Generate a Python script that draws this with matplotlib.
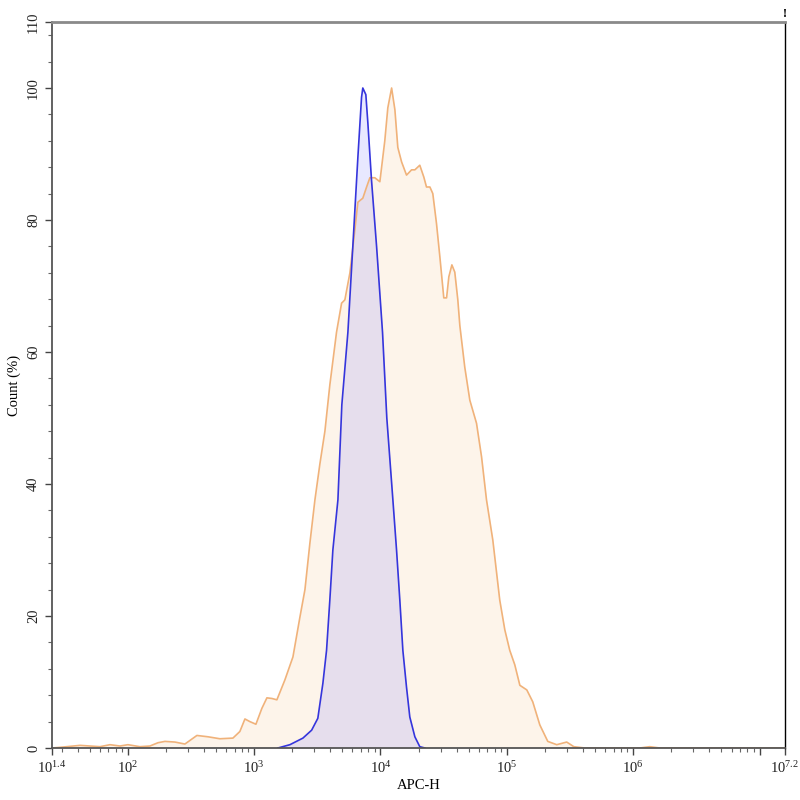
import numpy as np
import matplotlib
matplotlib.use("Agg")
from matplotlib import pyplot as plt
from matplotlib.ticker import FixedLocator, MultipleLocator, FixedFormatter

plt.rcParams['font.family'] = ['Liberation Serif', 'DejaVu Serif']
plt.rcParams['mathtext.fontset'] = 'custom'
plt.rcParams['mathtext.rm'] = 'Liberation Serif'

# APC-H positions are given as log10 exponents
sample_log = [1.400, 1.463, 1.622, 1.780, 1.859, 1.938, 2.001, 2.096, 2.175, 2.239,
              2.294, 2.373, 2.452, 2.547, 2.634, 2.729, 2.832, 2.887, 2.927, 2.966,
              3.014, 3.061, 3.101, 3.141, 3.180, 3.243, 3.307, 3.362, 3.402, 3.441,
              3.481, 3.520, 3.560, 3.599, 3.652, 3.692, 3.718, 3.758, 3.797, 3.821,
              3.860, 3.890, 3.916, 3.955, 3.995, 4.034, 4.058, 4.088, 4.114, 4.137,
              4.167, 4.206, 4.246, 4.272, 4.311, 4.343, 4.364, 4.391, 4.414, 4.443,
              4.470, 4.501, 4.523, 4.541, 4.565, 4.588, 4.612, 4.628, 4.667, 4.707,
              4.760, 4.800, 4.839, 4.889, 4.944, 4.984, 5.023, 5.063, 5.103, 5.158,
              5.205, 5.261, 5.324, 5.395, 5.474, 5.530, 5.617, 6.052, 6.131, 6.210,
              7.200]
sample_pct = [0.0, 0.1, 0.4, 0.2, 0.5, 0.3, 0.5, 0.2, 0.3, 0.8,
              1.0, 0.9, 0.6, 1.9, 1.7, 1.4, 1.5, 2.5, 4.4, 4.0,
              3.6, 6.0, 7.6, 7.5, 7.3, 10.3, 13.8, 19.8, 24.0, 31.0,
              37.6, 43.0, 48.0, 55.0, 63.0, 67.4, 67.9, 72.0, 78.5, 82.7,
              83.3, 85.0, 86.4, 86.4, 85.8, 92.0, 97.0, 100.0, 96.7, 91.0,
              88.8, 86.8, 87.6, 87.6, 88.3, 86.5, 85.0, 85.0, 84.0, 79.5,
              74.4, 68.2, 68.2, 71.4, 73.2, 72.1, 67.9, 64.0, 57.7, 52.7,
              49.2, 44.1, 37.6, 31.5, 22.4, 17.9, 14.8, 12.6, 9.5, 8.8,
              7.0, 3.5, 1.0, 0.5, 0.9, 0.2, 0.0, 0.0, 0.2, 0.0,
              0.0]

control_log = [3.188, 3.283, 3.386, 3.455, 3.504, 3.544, 3.573, 3.599, 3.623, 3.663,
               3.694, 3.742, 3.781, 3.821, 3.850, 3.860, 3.884, 3.900, 3.929, 3.969,
               4.016, 4.050, 4.098, 4.127, 4.153, 4.177, 4.206, 4.232, 4.272, 4.311,
               4.351]
control_pct = [0.0, 0.5, 1.5, 2.7, 4.5, 9.8, 14.8, 22.4, 30.0, 37.6,
               52.0, 63.0, 76.0, 89.5, 98.6, 100.0, 99.0, 94.7, 86.0, 76.0,
               63.0, 50.0, 37.6, 30.0, 22.4, 14.8, 9.2, 4.7, 1.7, 0.2,
               0.0]

x_tick_exp = [1.4, 2, 3, 4, 5, 6, 7, 7.2]
x_tick_labels = ['$\\mathregular{10^{1.4}}$', '$\\mathregular{10^{2}}$', '$\\mathregular{10^{3}}$',
                 '$\\mathregular{10^{4}}$', '$\\mathregular{10^{5}}$', '$\\mathregular{10^{6}}$',
                 '', '$\\mathregular{10^{7.2}}$']
y_ticks = [0, 20, 40, 60, 80, 100, 110]

sx = 10 ** np.array(sample_log)
cx = 10 ** np.array(control_log)

fig = plt.figure(figsize=(8, 8), dpi=100)
ax = fig.add_axes([0.065, 0.065, 0.916, 0.9075])

ax.fill_between(sx, sample_pct, color='#fdf4ea', lw=0)
ax.plot(sx, sample_pct, color='#f0b27a', lw=1.2)
ax.fill_between(cx, control_pct, color=(0.4, 0.4, 1.0), alpha=0.15, lw=0)
ax.plot(cx, control_pct, color='#3535dc', lw=1.2)

ax.set_xscale('log')
ax.set_xlim(10 ** 1.4, 10 ** 7.2)
ax.set_ylim(0, 110)

ax.xaxis.set_major_locator(FixedLocator([10 ** e for e in x_tick_exp]))
ax.xaxis.set_major_formatter(FixedFormatter(x_tick_labels))
minors = [m * 10 ** d for d in range(1, 8) for m in range(2, 10)]
ax.xaxis.set_minor_locator(FixedLocator(minors))
ax.xaxis.set_minor_formatter(FixedFormatter([]))

ax.yaxis.set_major_locator(FixedLocator(y_ticks))
ax.yaxis.set_minor_locator(MultipleLocator(4))

ax.tick_params(which='major', direction='out', length=5, width=1, color='#444444',
               labelsize=10.5, labelcolor='#222222')
ax.tick_params(which='minor', direction='out', length=3, width=0.8, color='#666666')
for lab in ax.get_yticklabels():
    lab.set_rotation(90)
    lab.set_va('center')

for side in ['left', 'bottom']:
    ax.spines[side].set_color('#555555')
    ax.spines[side].set_linewidth(1.3)
ax.spines['top'].set_color('#8a8a8a')
ax.spines['top'].set_linewidth(2)
ax.spines['right'].set_color('black')
ax.spines['right'].set_linewidth(1)

ax.set_xlabel('APC-H', fontsize=10.5)
ax.set_ylabel('Count (%)', fontsize=10.5)
ax.xaxis.set_label_coords(0.5, -0.051)
ax.yaxis.set_label_coords(-0.052, 0.5)
ax.xaxis.label.set_va('center')
ax.yaxis.label.set_va('center')

fig.text(0.981, 0.99, '!', fontsize=9, fontweight='bold', ha='center', va='top')

fig.savefig('out.png', dpi=100)
